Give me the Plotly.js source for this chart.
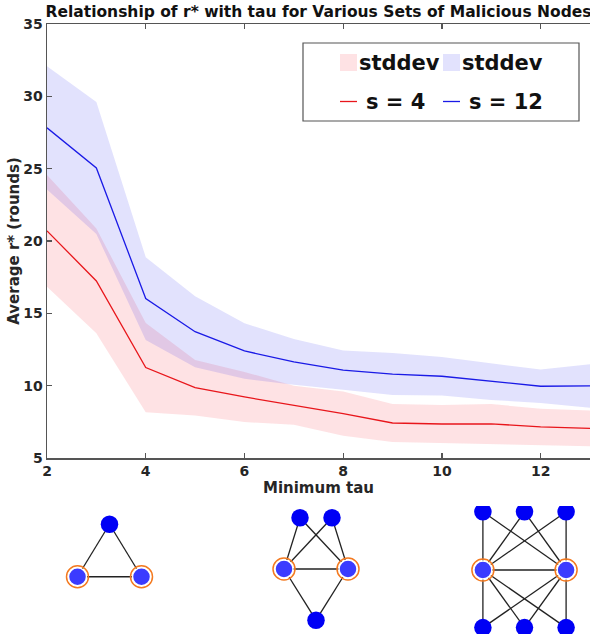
<!DOCTYPE html>
<html><head><meta charset="utf-8">
<script src="https://cdn.plot.ly/plotly-3.0.1.min.js"></script>
<style>html,body{margin:0;padding:0;background:#fff}#chart{width:590px;height:641px}</style>
</head><body><div id="chart"></div>
<script>
// ---- chart data ----
const tau     = [2, 3, 4, 5, 6, 7, 8, 9, 10, 11, 12, 13];
const meanS4  = [20.70, 17.24, 11.25, 9.86, 9.22, 8.64, 8.07, 7.42, 7.35, 7.36, 7.15, 7.05];
const stdS4   = [3.86, 3.62, 3.09, 1.92, 1.73, 1.35, 1.53, 1.32, 1.32, 1.37, 1.25, 1.23];
const meanS12 = [27.82, 25.05, 16.02, 13.73, 12.40, 11.64, 11.07, 10.80, 10.65, 10.28, 9.96, 9.98];
const stdS12  = [4.26, 4.56, 2.86, 2.45, 1.92, 1.58, 1.36, 1.45, 1.33, 1.27, 1.15, 1.50];
const seriesNames = ['s = 4', 's = 12'];
const bandName = 'stddev';
const xTickVals = [2, 4, 6, 8, 10, 12];
const yTickVals = [5, 10, 15, 20, 25, 30, 35];

// ---- network diagrams (abstract node coordinates, edges, malicious nodes) ----
const graph1X = [0, -1, 1];
const graph1Y = [-0.82, 0.82, 0.82];
const graph1Edges = [[0,1],[0,2],[1,2]];
const graph1Malicious = [1, 2];

const graph2X = [-0.5, 0.5, -1, 1, 0];
const graph2Y = [-1.6, -1.6, 0, 0, 1.6];
const graph2Edges = [[0,2],[0,3],[1,2],[1,3],[2,3],[2,4],[3,4]];
const graph2Malicious = [2, 3];

const graph3X = [-1.3, 0, 1.3, -1.3, 1.3, -1.3, 0, 1.3];
const graph3Y = [-1.82, -1.82, -1.82, 0, 0, 1.8, 1.8, 1.8];
const graph3Edges = [[0,3],[0,4],[1,3],[1,4],[2,3],[2,4],[5,3],[5,4],[6,3],[6,4],[7,3],[7,4],[3,4]];
const graph3Malicious = [3, 4];

// ---- styles ----
const FONT = 'DejaVu Sans, Liberation Sans, sans-serif';
const W = 590, H = 641;
const RED = '#e8161b', BLUE = '#1a1ae6';
const RED_FILL = 'rgba(245,20,30,0.12)', BLUE_FILL = 'rgba(20,20,235,0.12)';

function band(mean, std, fill) {
  const upper = mean.map((m, i) => m + std[i]);
  const lower = mean.map((m, i) => m - std[i]);
  return {
    x: tau.concat(tau.slice().reverse()),
    y: upper.concat(lower.slice().reverse()),
    type: 'scatter', mode: 'lines', fill: 'toself',
    fillcolor: fill, line: {width: 0, color: fill},
    name: bandName, hoverinfo: 'skip', showlegend: false
  };
}
function meanLine(vals, color, name) {
  return {x: tau, y: vals, type: 'scatter', mode: 'lines',
    line: {color: color, width: 1.3}, name: name, showlegend: false};
}

const traces = [
  band(meanS4, stdS4, RED_FILL),
  band(meanS12, stdS12, BLUE_FILL),
  meanLine(meanS4, RED, seriesNames[0]),
  meanLine(meanS12, BLUE, seriesNames[1])
];

function graphTraces(gx, gy, edges, mal, k) {
  const ex = [], ey = [];
  edges.forEach(([a, b]) => { ex.push(gx[a], gx[b], null); ey.push(gy[a], gy[b], null); });
  const xa = 'x' + k, ya = 'y' + k;
  const normal = gx.map((_, i) => i).filter(i => mal.indexOf(i) < 0);
  return [
    {x: ex, y: ey, xaxis: xa, yaxis: ya, type: 'scatter', mode: 'lines',
     line: {color: '#222', width: 1.3}, showlegend: false, hoverinfo: 'skip'},
    {x: normal.map(i => gx[i]), y: normal.map(i => gy[i]), xaxis: xa, yaxis: ya,
     type: 'scatter', mode: 'markers', marker: {size: 17.5, color: '#0000f5', line: {width: 0}},
     showlegend: false, hoverinfo: 'skip'},
    {x: mal.map(i => gx[i]), y: mal.map(i => gy[i]), xaxis: xa, yaxis: ya,
     type: 'scatter', mode: 'markers',
     marker: {size: 18, color: '#3b3bff', line: {width: 1.5, color: '#ffffff'}},
     showlegend: false, hoverinfo: 'skip'},
    {x: mal.map(i => gx[i]), y: mal.map(i => gy[i]), xaxis: xa, yaxis: ya,
     type: 'scatter', mode: 'markers',
     marker: {size: 22, symbol: 'circle-open', color: '#f47a20', line: {width: 1.5, color: '#f47a20'}},
     showlegend: false, hoverinfo: 'skip'}
  ];
}
traces.push(...graphTraces(graph1X, graph1Y, graph1Edges, graph1Malicious, 2));
traces.push(...graphTraces(graph2X, graph2Y, graph2Edges, graph2Malicious, 3));
traces.push(...graphTraces(graph3X, graph3Y, graph3Edges, graph3Malicious, 4));

function diagramAxes(cx, cy, k) {
  const half = 64;
  const o = {};
  o['xaxis' + k] = {domain: [(cx - half) / W, (cx + half) / W], range: [-2, 2], visible: false,
    fixedrange: true, anchor: 'y' + k};
  o['yaxis' + k] = {domain: [(H - (cy + half)) / H, (H - (cy - half)) / H], range: [2, -2],
    visible: false, fixedrange: true, anchor: 'x' + k};
  return o;
}

// ---- legend box (drawn in paper coordinates, pixel positions converted) ----
const px = v => v / W, py = v => 1 - v / H;
const legendFont = {family: FONT, size: 21, weight: 'bold', color: '#111111'};
const shapes = [
  {type: 'rect', xref: 'paper', yref: 'paper', x0: px(303), x1: px(579), y0: py(43), y1: py(121),
   line: {color: '#555555', width: 1.2}, fillcolor: '#ffffff', layer: 'above'},
  {type: 'rect', xref: 'paper', yref: 'paper', x0: px(340), x1: px(357), y0: py(54), y1: py(71),
   line: {width: 0}, fillcolor: RED_FILL, layer: 'above'},
  {type: 'rect', xref: 'paper', yref: 'paper', x0: px(443), x1: px(460), y0: py(54), y1: py(71),
   line: {width: 0}, fillcolor: BLUE_FILL, layer: 'above'},
  {type: 'line', xref: 'paper', yref: 'paper', x0: px(340), x1: px(357), y0: py(101.5), y1: py(101.5),
   line: {color: RED, width: 1.3}, layer: 'above'},
  {type: 'line', xref: 'paper', yref: 'paper', x0: px(443), x1: px(460), y0: py(101.5), y1: py(101.5),
   line: {color: BLUE, width: 1.3}, layer: 'above'}
];
const annotations = [
  {text: bandName, x: px(358), y: py(63), xanchor: 'left', yanchor: 'middle'},
  {text: bandName, x: px(461), y: py(63), xanchor: 'left', yanchor: 'middle'},
  {text: seriesNames[0], x: px(365), y: py(101.5), xanchor: 'left', yanchor: 'middle'},
  {text: seriesNames[1], x: px(468), y: py(101.5), xanchor: 'left', yanchor: 'middle'}
].map(a => Object.assign({xref: 'paper', yref: 'paper', showarrow: false, font: legendFont, borderpad: 0}, a));

const axisColor = '#555555';
const tickFont = {family: FONT, size: 14, weight: 'bold', color: '#262626'};
const titleFont = {family: FONT, size: 15, weight: 'bold', color: '#262626'};

const layout = Object.assign({
  width: W, height: H,
  margin: {l: 0, r: 0, t: 0, b: 0},
  paper_bgcolor: '#ffffff', plot_bgcolor: '#ffffff',
  font: {family: FONT},
  showlegend: false,
  shapes: shapes, annotations: annotations,
  title: {text: 'Relationship of r* with tau for Various Sets of Malicious Nodes',
    font: {family: FONT, size: 15.5, weight: 'bold', color: '#111111'},
    xref: 'paper', x: 318.5 / W, xanchor: 'center',
    yref: 'container', y: 1 - 12 / H, yanchor: 'middle'},
  xaxis: {domain: [47 / W, 1], range: [2, 13], tickvals: xTickVals,
    ticks: 'inside', ticklen: 5, tickwidth: 1.2, tickcolor: axisColor,
    showline: true, linecolor: axisColor, linewidth: 1.5, mirror: 'ticks',
    showgrid: false, zeroline: false, automargin: false, tickfont: tickFont,
    title: {text: 'Minimum tau', font: titleFont, standoff: 4}, fixedrange: true},
  yaxis: {domain: [1 - 458 / H, 1 - 24 / H], range: [5, 35], tickvals: yTickVals,
    ticks: 'inside', ticklen: 5, tickwidth: 1.2, tickcolor: axisColor,
    showline: true, linecolor: axisColor, linewidth: 1.5, mirror: false,
    showgrid: false, zeroline: false, automargin: false, tickfont: tickFont,
    title: {text: 'Average r* (rounds)', font: titleFont, standoff: 0}, fixedrange: true}
}, diagramAxes(109.5, 550.5, 2), diagramAxes(316, 569, 3), diagramAxes(524.5, 570, 4));

Plotly.newPlot('chart', traces, layout, {displayModeBar: false, staticPlot: true});
</script></body></html>
